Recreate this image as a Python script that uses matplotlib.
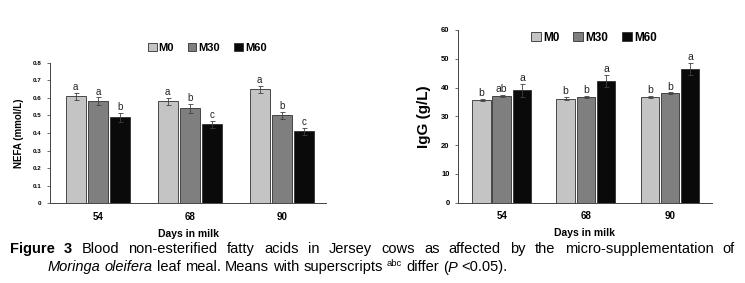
import numpy as np
import matplotlib
matplotlib.use("Agg")
import matplotlib.pyplot as plt

# data
days = ["54", "68", "90"]
groups = ["M0", "M30", "M60"]

nefa = [[0.61, 0.58, 0.65],
        [0.58, 0.54, 0.50],
        [0.49, 0.45, 0.41]]
nefa_err = [[0.02, 0.02, 0.02],
            [0.022, 0.025, 0.022],
            [0.025, 0.02, 0.02]]
nefa_sig = [["a", "a", "a"],
            ["a", "b", "b"],
            ["b", "c", "c"]]

igg = [[35.7, 36.2, 36.7],
       [37.0, 36.7, 38.0],
       [39.0, 42.3, 46.5]]
igg_err = [[0.3, 0.4, 0.3],
           [0.4, 0.3, 0.3],
           [2.2, 2.1, 2.1]]
igg_sig = [["b", "b", "b"],
           ["ab", "b", "b"],
           ["a", "a", "a"]]

colors = ["#c4c4c4", "#7f7f7f", "#0a0a0a"]

plt.rcParams['font.family'] = ['Liberation Sans', 'DejaVu Sans']

fig = plt.figure(figsize=(7.45, 2.83), dpi=100)

W, H = 745, 283


def px_axes(l, t, r, b):
    return fig.add_axes([l / W, 1 - b / H, (r - l) / W, (b - t) / H])


def bar_panel(ax, vals, errs, sig, ymax, step, fmt, tick_fs, sig_fs, xlim, lab_dy):
    x = np.arange(len(days))
    w, off = 0.22, 0.24
    for i in range(3):
        pos = x + (i - 1) * off
        ax.bar(pos, vals[i], w, color=colors[i], edgecolor="#303030",
               linewidth=0.6, yerr=errs[i], ecolor="#404040",
               error_kw=dict(elinewidth=0.6, capsize=1.8, capthick=0.6),
               label=groups[i], zorder=2)
        for xp, v, e, s in zip(pos, vals[i], errs[i], sig[i]):
            ax.text(xp, v + e + lab_dy, s, ha="center", va="bottom",
                    fontsize=sig_fs, color="#222222")
    ax.set_xlim(*xlim)
    ax.set_ylim(0, ymax)
    ticks = np.arange(0, ymax + step / 2, step)
    ax.set_yticks(ticks)
    ax.set_yticklabels([fmt(v) for v in ticks], fontsize=tick_fs, fontweight="bold")
    ax.set_xticks(x)
    ax.set_xticklabels(days, fontsize=7, fontweight="bold")
    ax.tick_params(axis="x", length=0, pad=6)
    ax.tick_params(axis="y", length=2, width=0.6, color="#555555", pad=4)
    for sp in ["top", "right"]:
        ax.spines[sp].set_visible(False)
    for sp in ["left", "bottom"]:
        ax.spines[sp].set_color("#444444")
        ax.spines[sp].set_linewidth(0.7)


# left: NEFA
ax1 = px_axes(50, 62.7, 326, 203.3)
bar_panel(ax1, nefa, nefa_err, nefa_sig, 0.8, 0.1,
          lambda v: "0" if v == 0 else f"{v:.1f}", 4.5, 7, (-0.52, 2.48), 0.003)
ax1.set_ylabel("NEFA (mmol/L)", fontsize=7, fontweight="bold", labelpad=6)
ax1.set_xlabel("Days in milk", fontsize=7.5, fontweight="bold", labelpad=5)
ax1.legend(loc="center", bbox_to_anchor=(207 / W, 1 - 48 / H),
           bbox_transform=fig.transFigure, ncol=3, frameon=False,
           prop=dict(size=8, weight="bold"), handlelength=0.8, handleheight=0.8,
           handletextpad=0.2, columnspacing=1.2, borderpad=0)

# right: IgG
ax2 = px_axes(458, 30, 712, 202.7)
bar_panel(ax2, igg, igg_err, igg_sig, 60, 10,
          lambda v: f"{v:.0f}", 5.5, 7.5, (-0.52, 2.5), 0.3)
ax2.set_ylabel("IgG (g/L)", fontsize=11, fontweight="bold", labelpad=7)
ax2.set_xlabel("Days in milk", fontsize=7.5, fontweight="bold", labelpad=5)
ax2.legend(loc="center", bbox_to_anchor=(594 / W, 1 - 38 / H),
           bbox_transform=fig.transFigure, ncol=3, frameon=False,
           prop=dict(size=8.5, weight="bold"), handlelength=0.8, handleheight=0.8,
           handletextpad=0.2, columnspacing=1.2, borderpad=0)

# caption
fig.canvas.draw()
r = fig.canvas.get_renderer()
cap_fs = 10.5


def width(t):
    return t.get_window_extent(renderer=r).width


line1 = [("Figure", "bold", "normal"), ("3", "bold", "normal")] + [
    (wd, "normal", "normal") for wd in
    "Blood non-esterified fatty acids in Jersey cows as affected by the micro-supplementation of".split()]
y1 = H - 249
objs = [fig.text(0, y1 / H, s, fontsize=cap_fs, fontweight=wt, fontstyle=st,
                 va="center", ha="left") for s, wt, st in line1]
ws = [width(o) for o in objs]
gap = (735 - 10 - sum(ws)) / (len(objs) - 1)
xp = 10
for o, wv in zip(objs, ws):
    o.set_x(xp / W)
    xp += wv + gap

sp_t = fig.text(0, 0, "x x", fontsize=cap_fs)
xx_t = fig.text(0, 0, "xx", fontsize=cap_fs)
space = width(sp_t) - width(xx_t)
sp_t.remove()
xx_t.remove()

y2 = H - 267
line2 = [("Moringa", "italic", 1, 0), ("oleifera", "italic", 1, 0),
         ("leaf", "normal", 1, 0), ("meal.", "normal", 1, 0),
         ("Means", "normal", 1, 0), ("with", "normal", 1, 0),
         ("superscripts", "normal", 1, 0), ("abc", "normal", 0.65, 4),
         ("differ", "normal", 1, 0), ("(", "normal", 1, -1), ("P", "italic", 1, -1),
         ("<0.05).", "normal", 1, 0)]
xp = 48
for s, st, scale, dy in line2:
    o = fig.text(xp / W, (y2 + dy) / H, s, fontsize=cap_fs * scale, fontstyle=st,
                 va="center", ha="left")
    xp += width(o)
    if dy >= 0 or s == "P":
        xp += space

fig.savefig("out.png", dpi=100)
